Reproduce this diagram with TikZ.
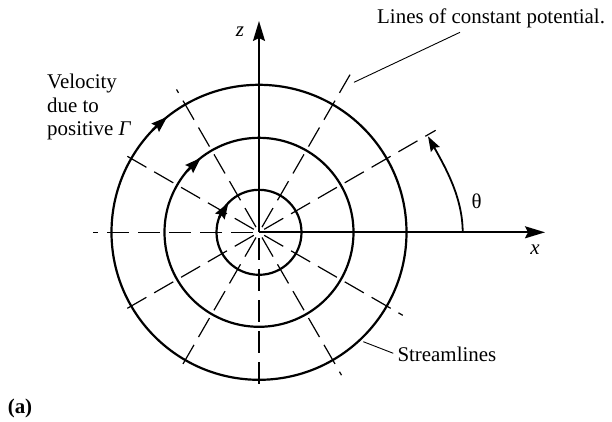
\documentclass[tikz,border=0pt]{standalone}
\usepackage{fontspec}
\setmainfont{Liberation Serif}
\usetikzlibrary{arrows.meta}
\begin{document}
\begin{tikzpicture}[x=1bp,y=1bp,
  txt/.style={inner sep=0pt,font=\fontsize{21}{23.5}\selectfont},
  circ/.style={line width=2.2bp},
  axis/.style={line width=1.8bp,-{Stealth[length=20bp,width=12bp,inset=3bp]}},
  dashline/.style={line width=1.2bp,dash pattern=on 22bp off 9bp},
  leader/.style={line width=0.9bp},
  flow/.style={line width=2.2bp,-{Stealth[length=16bp,width=11bp,inset=2bp]}}]
\useasboundingbox (-259,-188.7) rectangle (353,232.3);
\coordinate (O) at (0,0);
% radial lines of constant potential
\foreach \a/\r in {30/204,60/182,120/165,150/158,180/166,210/160,240/159,270/158,300/165,330/166}{
  \coordinate (s\a) at (\a:6);
  \coordinate (e\a) at (\a:\r);
  \draw[dashline] (s\a) -- (e\a);
}
% streamlines
\draw[circ] (O) circle[radius=42.5];
\draw[circ] (O) circle[radius=94.5];
\draw[circ] (O) circle[radius=147.5];
% axes
\coordinate (ztip) at (0,211.3);
\coordinate (xtip) at (286,0);
\draw[axis] (O) -- (ztip);
\draw[axis] (O) -- (xtip);
\node[txt] (zl) at (-19,200.3) {\textit{z}};
\node[txt] (xl) at (276,-17.7) {\textit{x}};
% velocity arrows
\coordinate (f1a) at (160:42.5);  \coordinate (f1b) at (136:42.5);
\coordinate (f2a) at (140:94.5);  \coordinate (f2b) at (128:94.5);
\coordinate (f3a) at (136:147.5); \coordinate (f3b) at (128.5:147.5);
\draw[flow] (f1a) -- (f1b);
\draw[flow] (f2a) -- (f2b);
\draw[flow] (f3a) -- (f3b);
% theta
\coordinate (th0) at (203.7,0);
\coordinate (th1) at (169,96);
\draw[line width=1.8bp,-{Stealth[length=15bp,width=10bp,inset=2bp]}] (th0) .. controls (203.7,35) and (186,65.5) .. (th1);
\node[txt] (th) at (217.7,30.6) {θ};
% labels
\coordinate (lp0) at (95,150);
\coordinate (lp1) at (201,200);
\draw[leader] (lp0) -- (lp1);
\node[txt,anchor=base west] (lcp) at (118,209.3) {Lines of constant potential.};
\node[txt,anchor=base west] (v1) at (-212,144.3) {Velocity};
\node[txt,anchor=base west] (v2) at (-212,120.3) {due to};
\node[txt,anchor=base west] (v3) at (-212,97.3) {positive \textit{Γ}};
\coordinate (sl0) at (104.3,-109.4);
\coordinate (sl1) at (134.3,-121);
\draw[leader] (sl0) -- (sl1);
\node[txt,anchor=base west] (sl) at (138.3,-129.4) {Streamlines};
\node[txt] (a) at (-239,-175.7) {\textbf{(a)}};
\end{tikzpicture}
\end{document}
